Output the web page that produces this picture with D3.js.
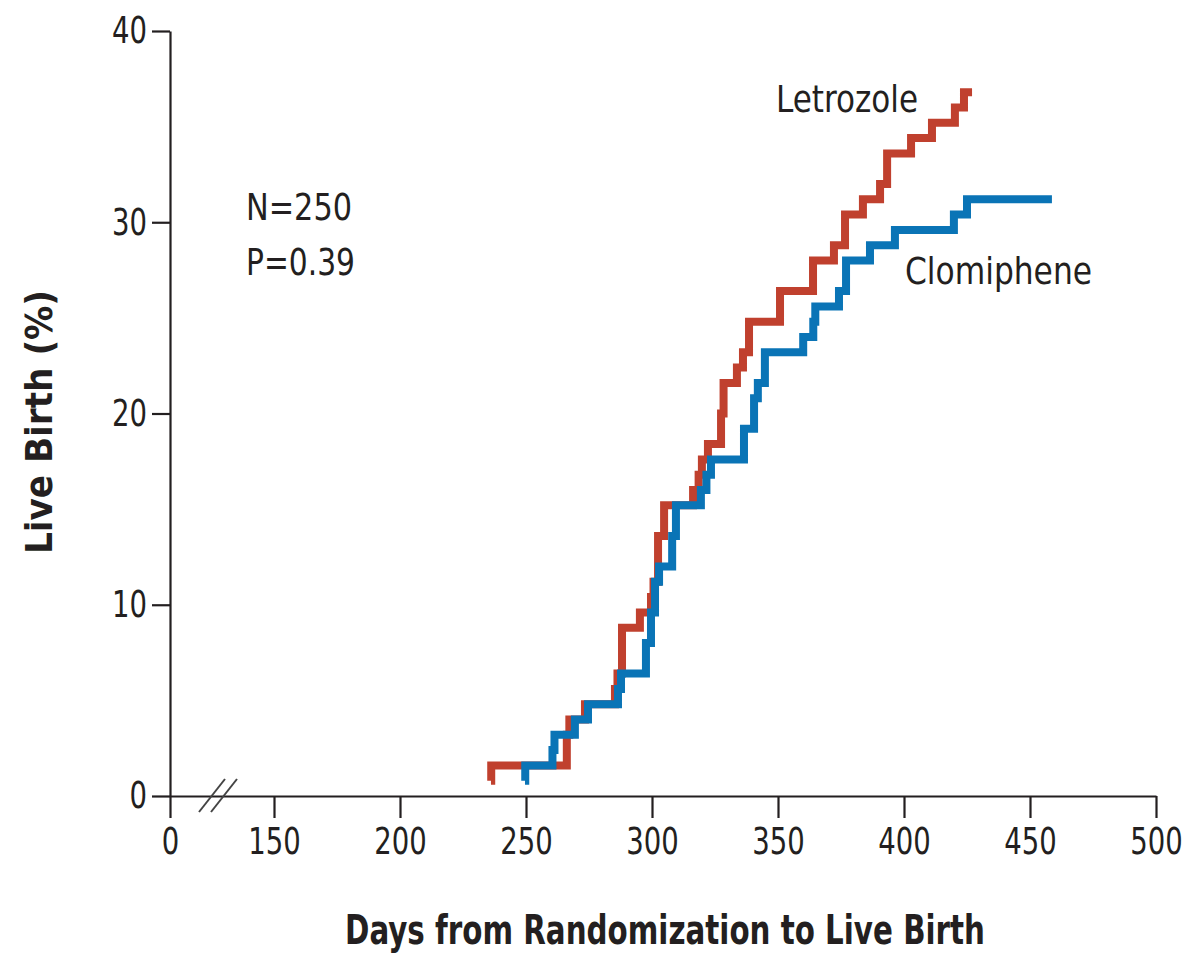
<!DOCTYPE html>
<html lang="en">
<head>
<meta charset="UTF-8">
<title>Live Birth</title>
<script src="https://d3js.org/d3.v7.min.js"></script>
<style>
  body { margin: 0; background: #fff; }
  text { font-family: "Liberation Sans Narrow", "DejaVu Sans Condensed", "Roboto Condensed", sans-serif; fill: #231f20; }
</style>
</head>
<body>
<script>
// Letrozole curve: day, cumulative live birth %
var letroDays = [236.1, 236.2, 266.2, 267.2, 273.4, 285.3, 286.3, 288.1, 295.2, 299.6, 300.6, 302.4, 304.8,
                 316.3, 318.5, 319.8, 322.2, 327.4, 328.4, 333.7, 336.1, 338.5, 350.8, 363.9, 372.2, 376.6,
                 383.7, 390.5, 393.3, 402.8, 411.1, 420.2, 423.8, 427.0];
var letroVals = [0.8, 1.6, 3.2, 4.0, 4.8, 5.6, 6.4, 8.8, 9.6, 10.4, 11.2, 13.6, 15.2,
                 16.0, 16.8, 17.6, 18.4, 20.0, 21.6, 22.4, 23.2, 24.8, 26.4, 28.0, 28.8, 30.4,
                 31.2, 32.0, 33.6, 34.4, 35.2, 36.0, 36.8, 36.8];

// Clomiphene curve
var clomiDays = [249.6, 249.7, 260.5, 261.3, 269.4, 274.6, 286.5, 287.7, 297.6, 299.6, 301.2, 302.8, 308.0,
                 309.5, 319.4, 321.6, 323.4, 336.5, 340.5, 342.0, 344.8, 360.0, 364.0, 364.8, 374.2, 377.0,
                 386.5, 396.4, 419.8, 425.0, 458.7];
var clomiVals = [0.8, 1.6, 2.4, 3.2, 4.0, 4.8, 5.6, 6.4, 8.0, 9.6, 11.2, 12.0, 13.6,
                 15.2, 16.0, 16.8, 17.6, 19.2, 20.8, 21.6, 23.2, 24.0, 24.8, 25.6, 26.4, 28.0,
                 28.8, 29.6, 30.4, 31.2, 31.2];

var xTicks = [0, 150, 200, 250, 300, 350, 400, 450, 500];
var yTicks = [0, 10, 20, 30, 40];

var width = 1204, height = 954;
var svg = d3.select("body").append("svg")
    .attr("width", width)
    .attr("height", height);

// broken axis: 0 sits just right of the y axis, then 150..500
var x = d3.scaleLinear().domain([0, 150, 500]).range([170, 274, 1156]);
var y = d3.scaleLinear().domain([0, 40]).range([796, 31]);

var xAxis = svg.append("g")
    .attr("transform", "translate(0,796)")
    .call(d3.axisBottom(x).tickValues(xTicks).tickSize(22).tickSizeOuter(0).tickPadding(10));
var yAxis = svg.append("g")
    .attr("transform", "translate(170,0)")
    .call(d3.axisLeft(y).tickValues(yTicks).tickSize(18).tickSizeOuter(0).tickPadding(5));

[xAxis, yAxis].forEach(function (g) {
    g.selectAll("path, line").attr("stroke", "#231f20").attr("stroke-width", 2.2);
    g.selectAll("text").attr("font-size", 37).attr("fill", "#231f20")
        .style("font-family", '"Liberation Sans Narrow", "DejaVu Sans Condensed", sans-serif')
        // narrow digits like the original
        .attr("textLength", function (d) { return String(d).length * 17.5; })
        .attr("lengthAdjust", "spacingAndGlyphs");
});

// break marks
svg.append("g").selectAll("line")
    .data([0, 12])
    .enter().append("line")
    .attr("x1", function (d) { return 199 + d; })
    .attr("y1", 812)
    .attr("x2", function (d) { return 225 + d; })
    .attr("y2", 779)
    .attr("stroke", "#444")
    .attr("stroke-width", 2);

var line = d3.line()
    .x(function (d) { return x(d[0]); })
    .y(function (d) { return y(d[1]); })
    .curve(d3.curveStepAfter);

var letro = d3.zip(letroDays, letroVals);
var clomi = d3.zip(clomiDays, clomiVals);

svg.append("path")
    .datum(letro)
    .attr("d", line)
    .attr("fill", "none")
    .attr("stroke", "#c0402e")
    .attr("stroke-width", 8);

svg.append("path")
    .datum(clomi)
    .attr("d", line)
    .attr("fill", "none")
    .attr("stroke", "#0a74b6")
    .attr("stroke-width", 8);

// labels
function label(tx, ty, size, w, s) {
    return svg.append("text").attr("x", tx).attr("y", ty).attr("font-size", size)
        .attr("textLength", w).attr("lengthAdjust", "spacingAndGlyphs").text(s);
}
label(776, 112, 38, 142, "Letrozole");
label(905, 284, 38, 187, "Clomiphene");
label(246, 220, 38, 106, "N=250");
label(246, 275, 38, 109, "P=0.39");

svg.append("text")
    .attr("x", 665).attr("y", 944)
    .attr("text-anchor", "middle")
    .attr("font-size", 40)
    .attr("font-weight", "bold")
    .attr("textLength", 640).attr("lengthAdjust", "spacingAndGlyphs")
    .text("Days from Randomization to Live Birth");

svg.append("text")
    .attr("transform", "translate(52,422) rotate(-90)")
    .attr("text-anchor", "middle")
    .attr("font-size", 38)
    .attr("font-weight", "bold")
    .attr("textLength", 264).attr("lengthAdjust", "spacingAndGlyphs")
    .text("Live Birth (%)");
</script>
</body>
</html>
